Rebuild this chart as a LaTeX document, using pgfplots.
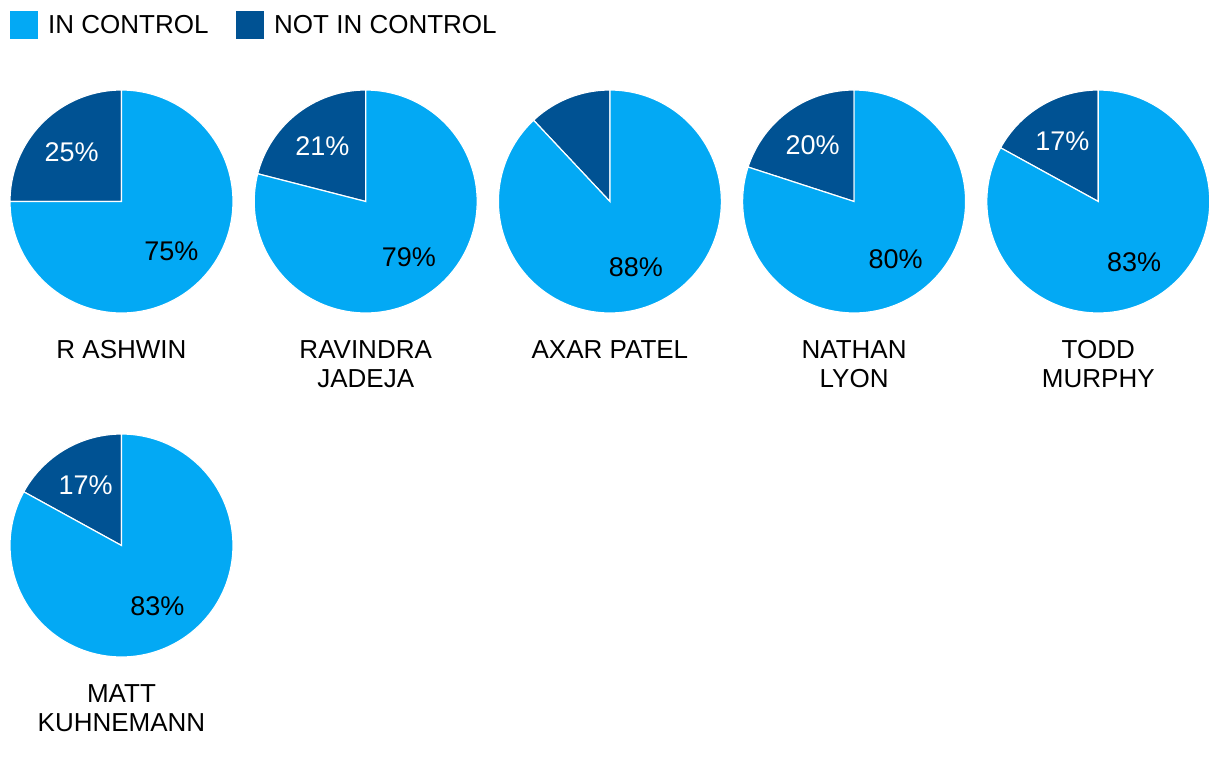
\documentclass[border=0pt]{standalone}
\usepackage{fontspec}
\setmainfont{Liberation Sans}
\usepackage{pgfplots}
\pgfplotsset{compat=1.18}
\definecolor{inc}{RGB}{3,169,244}
\definecolor{notc}{RGB}{0,82,147}
\newcommand\lfont{\fontsize{26bp}{30bp}\selectfont}
\newcommand\pfont{\fontsize{27bp}{30bp}\selectfont}
% #1 cx, #2 cy, #3 not-in-control %, #4 in-control %, #5 show dark label (1/0)
\newcommand\Pie[5]{%
  \pgfmathsetmacro\pa{90+3.6*#3}%
  \pgfmathsetmacro\ma{90+1.8*#3}%
  \pgfmathsetmacro\mb{\pa+1.8*#4}%
  \pgfmathsetmacro\dax{#1+70.5*cos(\ma)}%
  \pgfmathsetmacro\day{#2-70.5*sin(\ma)+9.6}%
  \pgfmathsetmacro\dbx{#1+70.5*cos(\mb)}%
  \pgfmathsetmacro\dby{#2-70.5*sin(\mb)+9.6}%
  \edef\temp{%
    \noexpand\addplot[forget plot, fill=notc, draw=white, line width=1.2bp, domain=90:\pa, samples=80]
      ({#1+111.5*cos(x)},{#2-111.5*sin(x)}) -- (axis cs:#1,#2) -- cycle;
    \noexpand\addplot[forget plot, fill=inc, draw=white, line width=1.2bp, domain=\pa:450, samples=150]
      ({#1+111.5*cos(x)},{#2-111.5*sin(x)}) -- (axis cs:#1,#2) -- cycle;
    \noexpand\node[anchor=base, text=black, font=\noexpand\pfont, inner sep=0pt] at (axis cs:\dbx,\dby) {#4\noexpand\%};
  }\temp
  \ifnum#5=1
    \edef\temp{\noexpand\node[anchor=base, text=white, font=\noexpand\pfont, inner sep=0pt] at (axis cs:\dax,\day) {#3\noexpand\%};}\temp
  \fi
}
\newcommand\Name[3]{% x, y baseline, text
  \edef\temp{\noexpand\node[anchor=base, font=\noexpand\lfont, inner sep=0pt] at (axis cs:#1,#2) {#3};}\temp
}
\begin{document}
\begin{tikzpicture}
\begin{axis}[
  width=1220bp, height=768bp, scale only axis,
  xmin=0, xmax=1220, ymin=0, ymax=768, y dir=reverse,
  hide axis, clip=false,
]
\addplot[draw=none, forget plot] coordinates {(0,0) (1220,768)};
% legend
\addplot[forget plot, fill=inc, draw=none] coordinates {(10,11) (38,11) (38,39) (10,39)} -- cycle;
\addplot[forget plot, fill=notc, draw=none] coordinates {(236,11) (264,11) (264,39) (236,39)} -- cycle;
\node[anchor=base west, font=\lfont, inner sep=0pt] at (axis cs:48,34) {IN CONTROL};
\node[anchor=base west, font=\lfont, inner sep=0pt] at (axis cs:274,34) {NOT IN CONTROL};
% pies
\Pie{121.5}{201.5}{25}{75}{1}
\Pie{365.7}{201.5}{21}{79}{1}
\Pie{609.9}{201.5}{12}{88}{0}
\Pie{854.1}{201.5}{20}{80}{1}
\Pie{1098.3}{201.5}{17}{83}{1}
\Pie{121.5}{545.5}{17}{83}{1}
\Name{121.5}{358}{R ASHWIN}
\Name{365.7}{358}{RAVINDRA}
\Name{365.7}{387.5}{JADEJA}
\Name{609.9}{358}{AXAR PATEL}
\Name{854.1}{358}{NATHAN}
\Name{854.1}{387.5}{LYON}
\Name{1098.3}{358}{TODD}
\Name{1098.3}{387.5}{MURPHY}
\Name{121.5}{702}{MATT}
\Name{121.5}{731.5}{KUHNEMANN}
\end{axis}
\end{tikzpicture}
\end{document}
